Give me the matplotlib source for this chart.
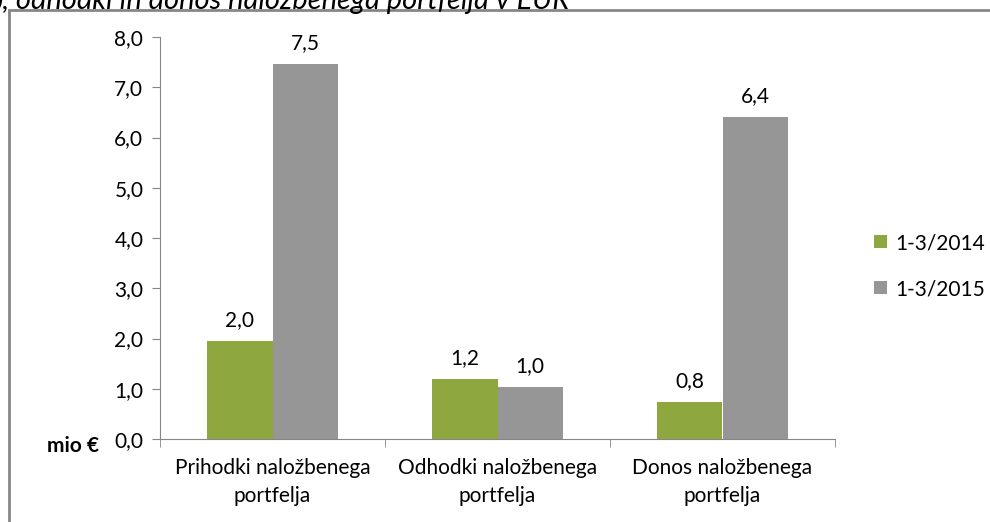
import matplotlib.pyplot as plt
from matplotlib.patches import Rectangle

# Podatki
kategorije = ["Prihodki naložbenega\nportfelja", "Odhodki naložbenega\nportfelja",
              "Donos naložbenega\nportfelja"]
vrednosti_2014 = [1.95, 1.19, 0.74]
vrednosti_2015 = [7.46, 1.03, 6.41]
oznake_2014 = ["2,0", "1,2", "0,8"]
oznake_2015 = ["7,5", "1,0", "6,4"]
serije = ["1-3/2014", "1-3/2015"]
y_ticki = [0, 1, 2, 3, 4, 5, 6, 7, 8]

plt.rcParams['font.family'] = ['Lato', 'DejaVu Sans']
fs = 15

fig = plt.figure(figsize=(9.9, 5.22), dpi=100)
ax = fig.add_axes([160 / 990, 1 - 439 / 522, 675 / 990, 402 / 522])

x = range(len(kategorije))
sirina = 0.289
zelena = "#8EA83F"
siva = "#969696"

b1 = ax.bar([i - sirina / 2 for i in x], vrednosti_2014, sirina, color=zelena, label=serije[0])
b2 = ax.bar([i + sirina / 2 for i in x], vrednosti_2015, sirina, color=siva, label=serije[1])

for bar, t in zip(b1, oznake_2014):
    ax.annotate(t, (bar.get_x() + bar.get_width() / 2, bar.get_height()),
                xytext=(0, 8), textcoords="offset points", ha="center", va="bottom", fontsize=fs)
for bar, t in zip(b2, oznake_2015):
    ax.annotate(t, (bar.get_x() + bar.get_width() / 2, bar.get_height()),
                xytext=(0, 8), textcoords="offset points", ha="center", va="bottom", fontsize=fs)

ax.set_xlim(-0.5, 2.5)
ax.set_ylim(0, 8)
ax.set_yticks(y_ticki)
ax.set_yticklabels([f"{v:.1f}".replace(".", ",") for v in y_ticki], fontsize=fs)
ax.set_xticks([0, 1, 2])
ax.set_xticklabels(kategorije, fontsize=fs, linespacing=1.45)
ax.tick_params(axis="x", length=0, pad=14)
ax.set_xticks([-0.5, 0.5, 1.5, 2.5], minor=True)
ax.tick_params(axis="x", which="minor", length=6, color="#868686")
ax.tick_params(axis="y", length=6, color="#868686", pad=6)

for s in ["top", "right"]:
    ax.spines[s].set_visible(False)
for s in ["left", "bottom"]:
    ax.spines[s].set_color("#868686")

ax.legend(loc="center left", bbox_to_anchor=(1.03, 0.43), frameon=False, fontsize=fs,
          handlelength=0.6, handleheight=0.6, labelspacing=1.25, handletextpad=0.4)

fig.text(47 / 990, 1 - 446 / 522, "mio €", fontsize=fs, fontweight="bold", va="center")

# okvir in odrezan naslov
fig.patches.append(Rectangle((9 / 990, -0.1), 1.1, 1 - 10 / 522 + 0.1, transform=fig.transFigure,
                             fill=False, edgecolor="#868686", linewidth=2))
fig.text(-0.004, 1 - 9 / 522, "), odhodki in donos naložbenega portfelja v EUR", fontsize=21,
         style="italic", va="baseline")

fig.savefig("out.png", dpi=100)
